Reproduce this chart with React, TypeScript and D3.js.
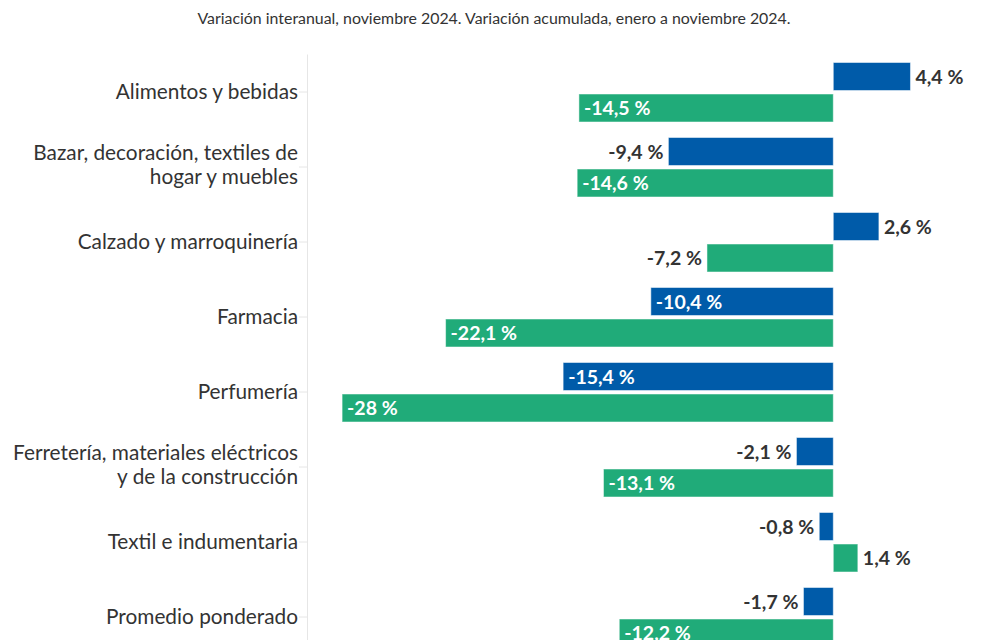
import React from "react";
import * as d3 from "d3";

const categories: string[][] = [
  ["Alimentos y bebidas"],
  ["Bazar, decoración, textiles de", "hogar y muebles"],
  ["Calzado y marroquinería"],
  ["Farmacia"],
  ["Perfumería"],
  ["Ferretería, materiales eléctricos", "y de la construcción"],
  ["Textil e indumentaria"],
  ["Promedio ponderado"],
];
const interanual = [4.4, -9.4, 2.6, -10.4, -15.4, -2.1, -0.8, -1.7];
const acumulada = [-14.5, -14.6, -7.2, -22.1, -28, -13.1, 1.4, -12.2];
const seriesNames = ["Variación interanual", "Variación acumulada"];
const subtitle =
  "Variación interanual, noviembre 2024. Variación acumulada, enero a noviembre 2024.";

const W = 989;
const H = 640;
const FONT = "Lato, 'Open Sans', sans-serif";
const COLORS = ["#005ba9", "#20ab79"];

const fmt = (v: number) => String(v).replace(".", ",") + " %";

export default function App() {
  const x = d3.scaleLinear().domain([-30, 5]).range([307, 921]);
  const yOuter = d3
    .scaleBand<number>()
    .domain(categories.map((_, i) => i))
    .range([54.5, 654.5])
    .padding(0);
  const yInner = d3
    .scaleBand<number>()
    .domain([0, 1])
    .range([8, 67.5])
    .paddingInner(0.111);
  const seriesData = [interanual, acumulada];
  const x0 = x(0);

  return (
    <svg
      width={W}
      height={H}
      style={{ position: "absolute", left: 0, top: 0, background: "#fff" }}
      fontFamily={FONT}
    >
      <text
        x={494}
        y={17}
        textAnchor="middle"
        dominantBaseline="central"
        fontSize={15.9}
        fill="#333"
      >
        {subtitle}
      </text>
      {/* axis line */}
      <line x1={307.5} x2={307.5} y1={54.5} y2={H} stroke="#e6e6e6" />
      {categories.map((lines, i) => {
        const cy = (yOuter(i) as number) + yOuter.bandwidth() / 2;
        const n = lines.length;
        return (
          <g key={"c" + i}>
            <line x1={299} x2={307} y1={cy} y2={cy} stroke="#e6e6e6" />
            {lines.map((ln, j) => (
              <text
                key={j}
                x={298}
                y={cy - 2 + (j - (n - 1) / 2) * 24 - (n > 1 ? 2 : 0)}
                textAnchor="end"
                dominantBaseline="central"
                fontSize={20.8}
                fill="#333"
              >
                {ln}
              </text>
            ))}
          </g>
        );
      })}
      {seriesData.map((vals, s) => (
        <g key={"s" + s} aria-label={seriesNames[s]}>
          {vals.map((v, i) => {
            const y0 = (yOuter(i) as number) + (yInner(s) as number);
            const bh = yInner.bandwidth();
            const xv = x(v);
            const left = Math.min(xv, x0);
            const w = Math.abs(xv - x0);
            const cy = y0 + bh / 2;
            let lx: number;
            let anchor: "start" | "end";
            let fill: string;
            if (v >= 0) {
              lx = xv + 5;
              anchor = "start";
              fill = "#333";
            } else if (Math.abs(v) >= 10) {
              lx = xv + 5;
              anchor = "start";
              fill = "#fff";
            } else {
              lx = xv - 5;
              anchor = "end";
              fill = "#333";
            }
            return (
              <g key={i}>
                <rect
                  x={left}
                  y={y0}
                  width={w}
                  height={bh}
                  fill={COLORS[s]}
                  stroke="#fff"
                  strokeOpacity={0.5}
                  strokeWidth={1}
                />
                <text
                  x={lx}
                  y={cy}
                  textAnchor={anchor}
                  dominantBaseline="central"
                  fontSize={19.5}
                  fontWeight="bold"
                  fill={fill}
                >
                  {fmt(v)}
                </text>
              </g>
            );
          })}
        </g>
      ))}
    </svg>
  );
}
